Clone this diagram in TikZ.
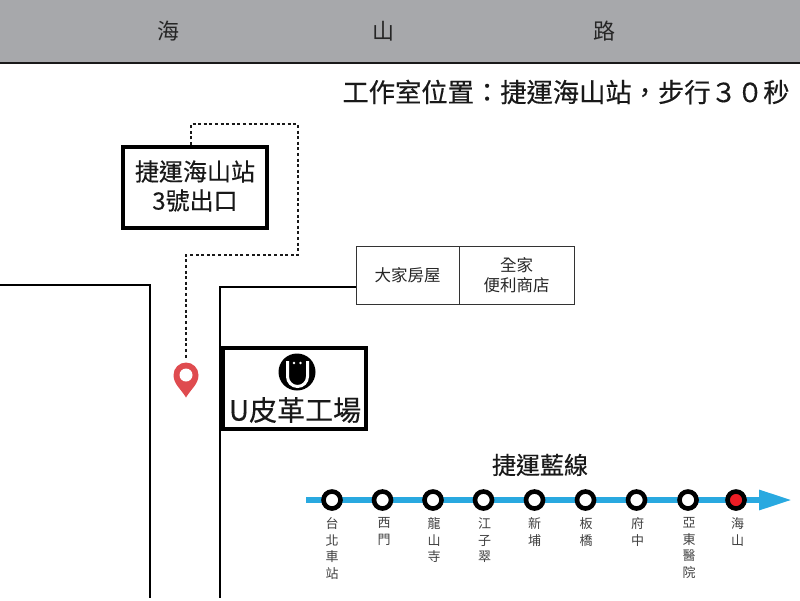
\documentclass[tikz,border=0pt]{standalone}
\usepackage{fontspec}
\setmainfont{Noto Sans CJK TC}
\newfontfamily\medfont[FakeBold=0.35]{Noto Sans CJK TC}
\usetikzlibrary{arrows.meta}
\definecolor{roadgray}{HTML}{A7A8AB}
\definecolor{linkblue}{HTML}{29A9E0}
\definecolor{pinred}{HTML}{DF4B4F}
\definecolor{stopred}{HTML}{ED1C24}
\newcommand{\pxfont}[2]{\fontsize{#1}{#2}\selectfont}
\begin{document}
\begin{tikzpicture}[
        x=1pt,
        y=-1pt,
        inner sep=0pt
    ]
    \tikzset{
        roadname/.style = {font=\pxfont{22}{26}, text=black!85},
        boldbox/.style = {rectangle, draw=black, line width=4.2pt, fill=white, align=center, anchor=center},
        shopbox/.style = {rectangle, draw=black!80, line width=0.9pt, fill=white, align=center, font=\pxfont{16.5}{20.5}, text=black!85},
        stopn/.style = {circle, draw=black, line width=4.6pt, fill=white, minimum size=17pt},
        stopr/.style = {circle, draw=black, line width=4.6pt, fill=stopred, minimum size=17pt},
        stoplabel/.style = {anchor=north, align=center, font=\pxfont{13}{16.6}, text=black!75},
        edgeroad/.style = {-, line width=2.8pt, black},
        edgewalk/.style = {-, line width=2.4pt, black!90, dash pattern=on 3pt off 2.6pt},
        edgeline/.style = {-{Triangle[length=33pt,width=19pt]}, line width=6pt, linkblue},
    }
    \useasboundingbox (0,0) rectangle (800,600);
    %
    \fill[roadgray] (0,0) rectangle (800,62.5);
    \draw[line width=2pt, black!90] (0,63) -- (800,63);
    \node[roadname] at (168,31) (hai) {海};
    \node[roadname] at (383,31) (shan) {山};
    \node[roadname] at (604,31) (lu) {路};
    \node[font=\medfont\pxfont{26.3}{30}, text=black!90] at (566,92) (title) {工作室位置：捷運海山站，步行３０秒};
    %
    \coordinate (leftend) at (0,285);
    \coordinate (leftcorner) at (150,285);
    \coordinate (leftfoot) at (150,598);
    \coordinate (rightcorner) at (220,287);
    \coordinate (rightfoot) at (220,598);
    \coordinate (walka) at (191,124);
    \coordinate (walkb) at (298,124);
    \coordinate (walkc) at (298,255);
    \coordinate (walkd) at (186,255);
    \coordinate (walke) at (186,358);
    %
    \node[shopbox, minimum width=103pt, minimum height=58pt] at (407.5,275) (fangwu) {大家房屋};
    \node[shopbox, minimum width=115pt, minimum height=58pt] at (516.5,275) (quanjia) {全家\\便利商店};
    \draw[edgeroad] (leftend) -- (leftcorner) -- (leftfoot);
    \draw[edgeroad] (fangwu.west |- rightcorner) -- (rightcorner) -- (rightfoot);
    %
    \node[boldbox, minimum width=144pt, minimum height=81pt] at (195,187.5) (exit) {};
    \node[align=center, font=\medfont\pxfont{24}{29}, text=black!90] at (195,186) (exitname) {捷運海山站\\3號出口};
    \node[boldbox, minimum width=143pt, minimum height=81pt] at (294.5,388.5) (studio) {};
    \node[font=\medfont\pxfont{28}{32}, text=black!90] at (295,410) (studioname) {U皮革工場};
    %
    \node[circle, fill=black, minimum size=37pt] at (297,372) (logo) {};
    \draw[white, line width=3pt] (287.5,361) -- (287.5,376.5) arc[start angle=180, end angle=0, radius=10] -- (307.5,361);
    \fill[white] (294,363) circle (1.4) (300.5,363) circle (1.4);
    %
    \fill[pinred] (186,397.5) .. controls (181,389) and (173.5,384) .. (173.5,375) arc[start angle=180, end angle=360, radius=12.5] .. controls (198.5,384) and (191,389) .. (186,397.5) -- cycle;
    \node[circle, minimum size=13pt, fill=white] at (186,375) (pin) {};
    \draw[edgewalk] (exit.north -| walka) -- (walka) -- (walkb) -- (walkc) -- (walkd) -- (walke);
    %
    \node[font=\medfont\pxfont{24}{28}, text=black!90] at (540,465) (linename) {捷運藍線};
    \coordinate (linestart) at (306,500);
    \coordinate (lineend) at (792,500);
    \draw[edgeline] (linestart) -- (lineend);
    %
    \node[stopn] at (332,500) (taipei) {};
    \node[stopn] at (382.5,500) (ximen) {};
    \node[stopn] at (433,500) (longshan) {};
    \node[stopn] at (483.5,500) (jiangzicui) {};
    \node[stopn] at (534.5,500) (xinpu) {};
    \node[stopn] at (585.5,500) (banqiao) {};
    \node[stopn] at (636.5,500) (fuzhong) {};
    \node[stopn] at (688,500) (yadong) {};
    \node[stopr] at (736,500) (haishan) {};
    %
    \node[stoplabel] at (332,517.5) (taipeil) {台\\北\\車\\站};
    \node[stoplabel] at (384,517.5) (ximenl) {西\\門};
    \node[stoplabel] at (434,517.5) (longshanl) {龍\\山\\寺};
    \node[stoplabel] at (484.5,517.5) (jiangzicuil) {江\\子\\翠};
    \node[stoplabel] at (534.5,517.5) (xinpul) {新\\埔};
    \node[stoplabel] at (586,517.5) (banqiaol) {板\\橋};
    \node[stoplabel] at (637.5,517.5) (fuzhongl) {府\\中};
    \node[stoplabel] at (689,517.5) (yadongl) {亞\\東\\醫\\院};
    \node[stoplabel] at (737.5,517.5) (haishanl) {海\\山};
\end{tikzpicture}
\end{document}
